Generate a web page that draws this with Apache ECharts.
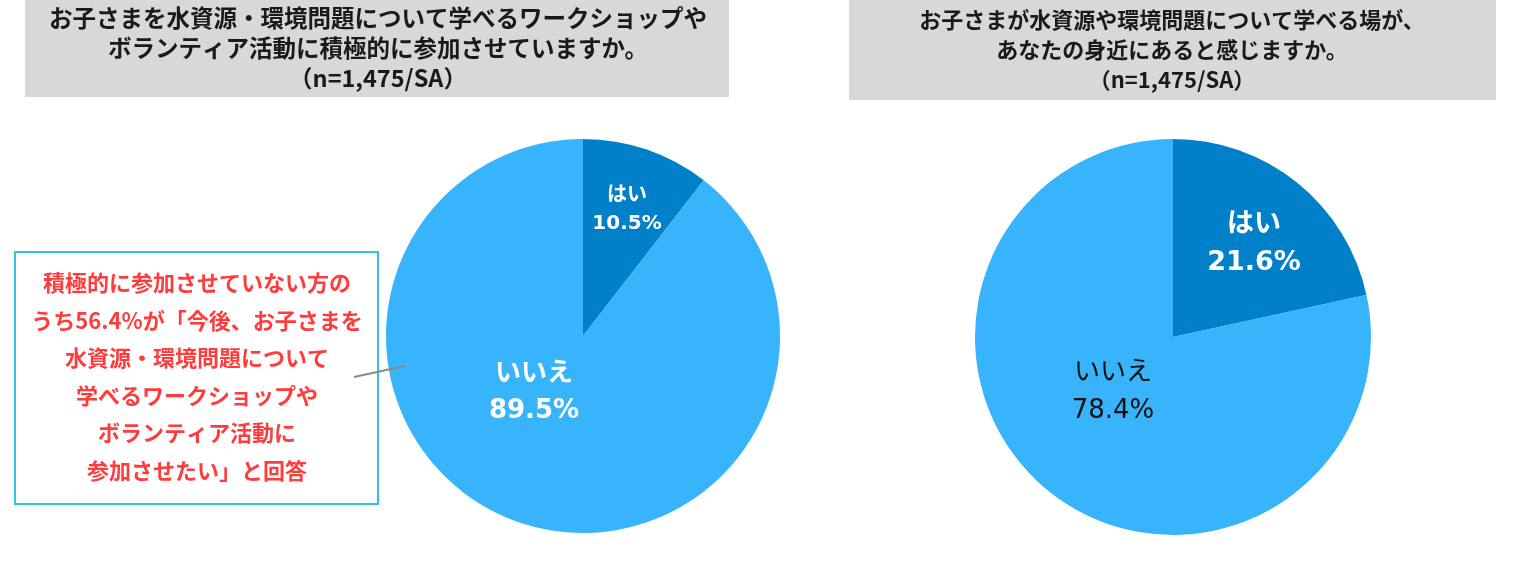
<!DOCTYPE html>
<html>
<head>
<meta charset="utf-8">
<script src="https://cdn.jsdelivr.net/npm/echarts@6/dist/echarts.min.js"></script>
<style>
  html, body { margin: 0; padding: 0; background: #fff; }
  #chart { width: 1525px; height: 564px; }
</style>
</head>
<body>
<div id="chart"></div>
<script>
const categories = ['はい', 'いいえ'];
const valuesLeft = [10.5, 89.5];
const valuesRight = [21.6, 78.4];
const titleLeft = 'お子さまを水資源・環境問題について学べるワークショップや\nボランティア活動に積極的に参加させていますか。\n（n=1,475/SA）';
const titleRight = 'お子さまが水資源や環境問題について学べる場が、\nあなたの身近にあると感じますか。\n（n=1,475/SA）';
const noteText = '積極的に参加させていない方の\nうち56.4%が「今後、お子さまを\n水資源・環境問題について\n学べるワークショップや\nボランティア活動に\n参加させたい」と回答';

const font = '"Noto Sans CJK JP", "Noto Sans", sans-serif';
const labelFont = '"DejaVu Sans", "Noto Sans CJK JP", sans-serif';
const dark = '#0080C8';
const light = '#38B4FC';

// ラベル位置（画面座標）
const labelPosLeft = [[627, 210], [534, 393]];
const labelPosRight = [[1254, 244], [1113, 392]];

function pieSeries(values, center, radius, labelPos, styles) {
  return {
    type: 'pie',
    center: center,
    radius: radius,
    startAngle: 90,
    clockwise: true,
    silent: true,
    labelLine: { show: false },
    data: categories.map((name, i) => ({
      name: name,
      value: values[i],
      itemStyle: { color: i === 0 ? dark : light, borderWidth: 0 },
      label: Object.assign({
        show: true,
        position: 'inside',
        fontFamily: labelFont,
        align: 'center',
        formatter: p => p.name + '\n' + p.value.toFixed(1) + '%'
      }, styles[i])
    })),
    labelLayout: p => ({
      x: labelPos[p.dataIndex][0],
      y: labelPos[p.dataIndex][1],
      align: 'center',
      verticalAlign: 'middle'
    })
  };
}

const chart = echarts.init(document.getElementById('chart'));
chart.setOption({
  animation: false,
  graphic: [
    { type: 'rect', shape: { x: 25, y: 0, width: 704, height: 97 }, style: { fill: '#D7D8D8' }, z: 0 },
    { type: 'rect', shape: { x: 849, y: 0, width: 647, height: 100 }, style: { fill: '#D7D8D8' }, z: 0 },
    {
      type: 'text', x: 378, y: 3, z: 1,
      style: { text: titleLeft, font: 'bold 23.5px ' + font, fill: '#1a1a1a', align: 'center', lineHeight: 30 }
    },
    {
      type: 'text', x: 1172, y: 5, z: 1,
      style: { text: titleRight, font: 'bold 22px ' + font, fill: '#1a1a1a', align: 'center', lineHeight: 30 }
    },
    {
      type: 'rect', shape: { x: 15, y: 252, width: 363, height: 252 },
      style: { fill: '#fff', stroke: '#2EC4E2', lineWidth: 2 }, z: 1
    },
    {
      type: 'text', x: 197, y: 264, z: 2,
      style: { text: noteText, font: 'bold 22px ' + font, fill: '#FF3B3B', align: 'center', lineHeight: 37.5 }
    },
    {
      type: 'line', shape: { x1: 354, y1: 377, x2: 405, y2: 366 },
      style: { stroke: '#8A8A8A', lineWidth: 2 }, z: 10
    }
  ],
  series: [
    pieSeries(valuesLeft, [583, 336], 197, labelPosLeft, [
      { color: '#fff', fontWeight: 'bold', fontSize: 20, lineHeight: 28 },
      { color: '#fff', fontWeight: 'bold', fontSize: 26, lineHeight: 37 }
    ]),
    pieSeries(valuesRight, [1173, 337], 198, labelPosRight, [
      { color: '#fff', fontWeight: 'bold', fontSize: 27, lineHeight: 38 },
      { color: '#111', fontWeight: 'normal', fontSize: 26, lineHeight: 38 }
    ])
  ]
});
</script>
</body>
</html>
